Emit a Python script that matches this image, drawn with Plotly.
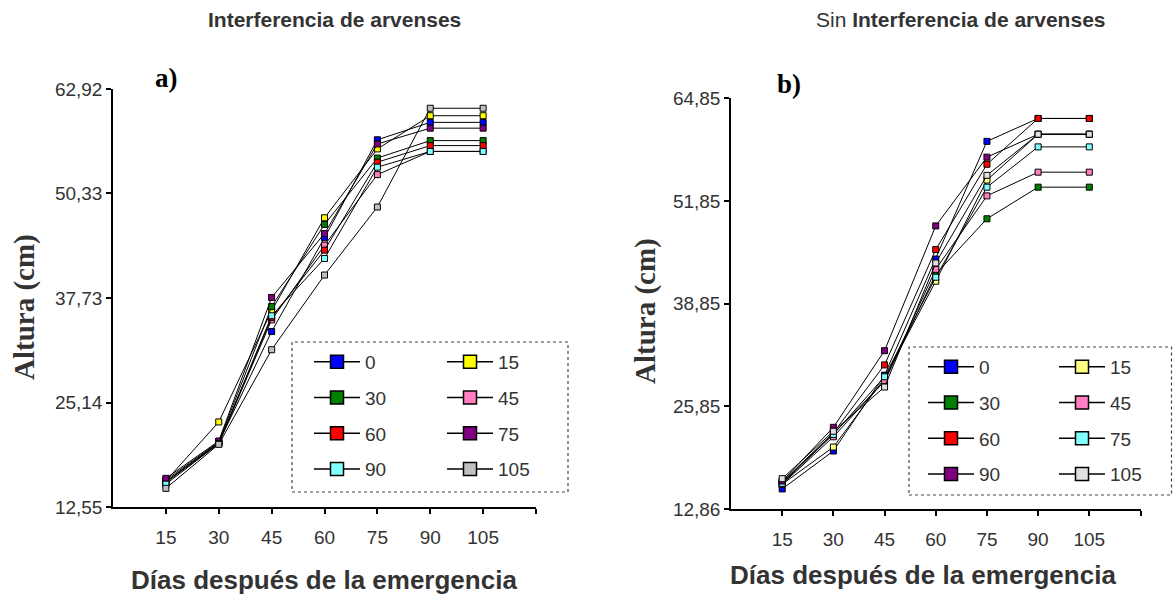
import plotly.graph_objects as go

W, H = 1173, 596

# ---------------- data ----------------
days = [15, 30, 45, 60, 75, 90, 105]
labels = ["0", "15", "30", "45", "60", "75", "90", "105"]

# Panel a) Interferencia de arvenses
a_colors = ["#0000FF", "#FFFF00", "#008000", "#FF80C0", "#FF0000", "#800080", "#80FFFF", "#C0C0C0"]
a_0 = [15.6, 20.3, 33.7, 45.0, 56.8, 58.9, 58.9]
a_15 = [15.7, 22.8, 36.2, 47.4, 55.7, 59.7, 59.7]
a_30 = [15.8, 20.4, 36.7, 46.6, 54.6, 56.7, 56.7]
a_45 = [15.5, 20.2, 35.1, 44.1, 52.6, 55.4, 55.4]
a_60 = [15.6, 20.3, 35.4, 43.5, 54.1, 56.1, 56.1]
a_75 = [16.0, 20.5, 37.8, 45.5, 56.3, 58.2, 58.2]
a_90 = [15.3, 20.2, 35.6, 42.5, 53.5, 55.4, 55.4]
a_105 = [14.8, 20.1, 31.5, 40.5, 48.7, 60.6, 60.6]
a_series = [a_0, a_15, a_30, a_45, a_60, a_75, a_90, a_105]
a_yticks = [12.55, 25.14, 37.73, 50.33, 62.92]
a_yticktext = ["12,55", "25,14", "37,73", "50,33", "62,92"]

# Panel b) Sin interferencia de arvenses
b_colors = ["#0000FF", "#FFFF80", "#008000", "#FF80C0", "#FF0000", "#80FFFF", "#800080", "#E0E0E0"]
b_0 = [15.4, 20.2, 29.8, 44.5, 59.4, 62.3, 62.3]
b_15 = [16.0, 20.7, 29.4, 41.7, 54.5, 60.3, 60.3]
b_30 = [16.2, 22.4, 29.0, 42.6, 49.6, 53.6, 53.6]
b_45 = [16.0, 22.0, 29.1, 43.2, 52.5, 55.5, 55.5]
b_60 = [16.3, 22.5, 31.1, 45.7, 56.5, 62.3, 62.3]
b_75 = [16.1, 22.3, 29.6, 42.2, 53.6, 58.7, 58.7]
b_90 = [16.4, 23.2, 32.9, 48.7, 57.4, 60.3, 60.3]
b_105 = [16.7, 22.7, 28.3, 44.0, 55.1, 60.3, 60.3]
b_series = [b_0, b_15, b_30, b_45, b_60, b_75, b_90, b_105]
b_yticks = [12.86, 25.85, 38.85, 51.85, 64.85]
b_yticktext = ["12,86", "25,85", "38,85", "51,85", "64,85"]

xticks = [15, 30, 45, 60, 75, 90, 105, 120]
xticktext = ["15", "30", "45", "60", "75", "90", "105", ""]

# ---------------- helpers ----------------
def px(x):
    return x / W


def py(y):
    return 1 - y / H


TXT = "#333333"
SANS = "Liberation Sans, Arial, sans-serif"
SERIF = "Liberation Serif, Times New Roman, serif"

fig = go.Figure()


def add_panel(series, colors, xa, ya, legends):
    for i, (lab, vals, col) in enumerate(zip(labels, series, colors)):
        fig.add_trace(go.Scatter(
            x=days, y=vals, mode="lines+markers", xaxis=xa, yaxis=ya,
            line=dict(color="black", width=1),
            marker=dict(symbol="square", size=6, color=col,
                        line=dict(color="black", width=1)),
            showlegend=False, hoverinfo="skip"))
    # legend-only entries (left column: 0,30,60,90 ; right column: 15,45,75,105)
    for i, (lab, col) in enumerate(zip(labels, colors)):
        fig.add_trace(go.Scatter(
            x=[None], y=[None], mode="lines+markers", xaxis=xa, yaxis=ya,
            name=lab, legend=legends[i % 2], legendgroup=f"{xa}{lab}",
            line=dict(color="black", width=1.5),
            marker=dict(symbol="square", size=13, color=col,
                        line=dict(color="black", width=1.5))))


add_panel(a_series, a_colors, "x", "y", ["legend", "legend2"])
add_panel(b_series, b_colors, "x2", "y2", ["legend3", "legend4"])

axis_common = dict(showline=True, linecolor="black", linewidth=1.5,
                   ticks="outside", ticklen=5, tickcolor="black", tickwidth=1.5,
                   showgrid=False, zeroline=False, automargin=False,
                   tickfont=dict(family=SANS, size=19, color=TXT))

legend_common = dict(bgcolor="rgba(0,0,0,0)", borderwidth=0,
                     font=dict(family=SANS, size=19, color=TXT),
                     xanchor="left", yanchor="top", tracegroupgap=8,
                     itemwidth=46,
                     itemclick=False, itemdoubleclick=False)

fig.update_layout(
    width=W, height=H,
    margin=dict(l=0, r=0, t=0, b=0, pad=0),
    paper_bgcolor="white", plot_bgcolor="white",
    showlegend=True,
    xaxis=dict(domain=[px(113), px(536)], range=[0, 120], anchor="y",
               tickvals=xticks, ticktext=xticktext, ticklabelstandoff=7,
               **axis_common),
    yaxis=dict(domain=[py(507), py(89)], range=[12.55, 62.92], anchor="x",
               tickvals=a_yticks, ticktext=a_yticktext, ticklabelstandoff=0,
               **axis_common),
    xaxis2=dict(domain=[px(731), px(1140.5)], range=[0, 120], anchor="y2",
                tickvals=xticks, ticktext=xticktext, ticklabelstandoff=7,
                **axis_common),
    yaxis2=dict(domain=[py(509), py(98.3)], range=[12.86, 64.85], anchor="x2",
                tickvals=b_yticks, ticktext=b_yticktext, ticklabelstandoff=0,
                **axis_common),
    legend=dict(x=px(309), y=py(343), **legend_common),
    legend2=dict(x=px(442), y=py(343), **legend_common),
    legend3=dict(x=px(923), y=py(348), **legend_common),
    legend4=dict(x=px(1054), y=py(348), **legend_common),
    shapes=[
        dict(type="rect", xref="paper", yref="paper",
             x0=px(292), x1=px(568), y0=py(492), y1=py(342),
             line=dict(color="#444", width=1.2, dash="dot")),
        dict(type="rect", xref="paper", yref="paper",
             x0=px(909), x1=px(1171.5), y0=py(495), y1=py(347),
             line=dict(color="#444", width=1.2, dash="dot")),
    ],
)

annots = [
    dict(x=px(334.5), y=py(20), text="<b>Interferencia de arvenses</b>",
         font=dict(family=SANS, size=21, color=TXT)),
    dict(x=px(961), y=py(20), text="Sin <b>Interferencia de arvenses</b>",
         font=dict(family=SANS, size=21, color=TXT)),
    dict(x=px(166), y=py(78), text="<b>a)</b>",
         font=dict(family=SERIF, size=27, color="black")),
    dict(x=px(789), y=py(84), text="<b>b)</b>",
         font=dict(family=SERIF, size=27, color="black")),
    dict(x=px(24), y=py(307), text="<b>Altura (cm)</b>", textangle=-90,
         font=dict(family=SERIF, size=29, color=TXT)),
    dict(x=px(645), y=py(311), text="<b>Altura (cm)</b>", textangle=-90,
         font=dict(family=SERIF, size=29, color=TXT)),
    dict(x=px(324), y=py(580), text="<b>Días después de la emergencia</b>",
         font=dict(family=SANS, size=26, color=TXT)),
    dict(x=px(923), y=py(575), text="<b>Días después de la emergencia</b>",
         font=dict(family=SANS, size=26, color=TXT)),
]
for a in annots:
    fig.add_annotation(xref="paper", yref="paper", showarrow=False,
                       xanchor="center", yanchor="middle", **a)

fig.write_html("out.html")
